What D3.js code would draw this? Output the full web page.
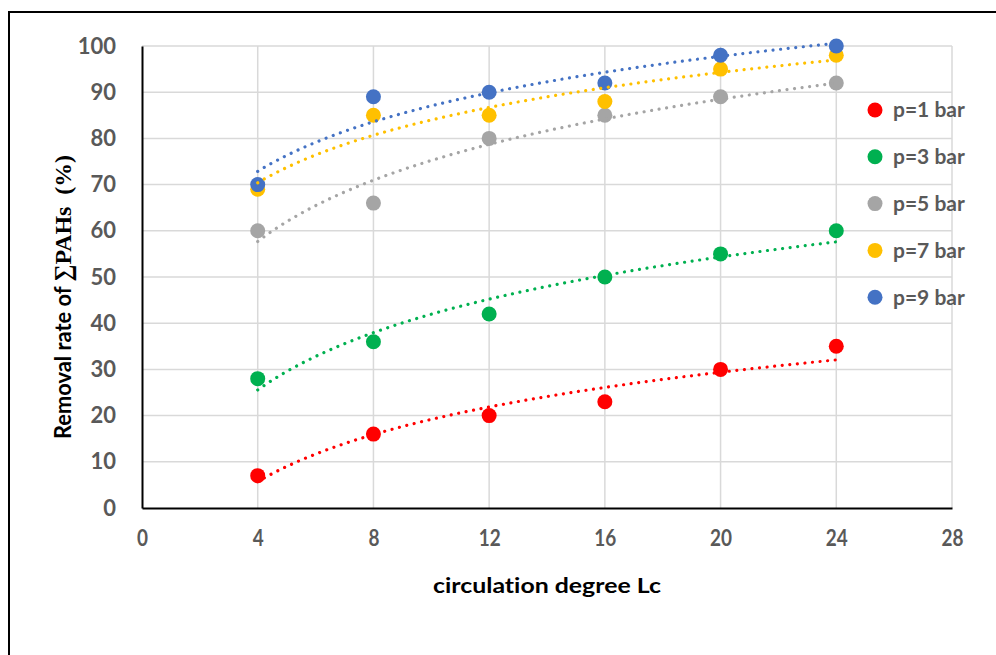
<!DOCTYPE html>
<html>
<head>
<meta charset="utf-8">
<script src="https://cdn.jsdelivr.net/npm/d3@7"></script>
<style>
  body { margin: 0; background: #fff; }
  svg { display: block; }
  text, tspan { font-feature-settings: "liga" 0, "clig" 0, "dlig" 0; }
</style>
</head>
<body>
<svg id="chart" width="996" height="655"></svg>
<script>
'use strict';

// circulation degree Lc
const cycles = [4, 8, 12, 16, 20, 24];
const seriesNames = ["p=1 bar", "p=3 bar", "p=5 bar", "p=7 bar", "p=9 bar"];
const seriesColors = ["#FF0000", "#00B050", "#A5A5A5", "#FFC000", "#4472C4"];
// removal rate (%)
const p1 = [7, 16, 20, 23, 30, 35];
const p3 = [28, 36, 42, 50, 55, 60];
const p5 = [60, 66, 80, 85, 89, 92];
const p7 = [69, 85, 85, 88, 95, 98];
const p9 = [70, 89, 90, 92, 98, 100];
const xTicks = [0, 4, 8, 12, 16, 20, 24, 28];
const yTicks = [0, 10, 20, 30, 40, 50, 60, 70, 80, 90, 100];

const seriesValues = [p1, p3, p5, p7, p9];

const svg = d3.select("#chart");

// outer frame (runs off right and bottom edge like the reference)
svg.append("rect")
	.attr("x", 9).attr("y", 12)
	.attr("width", 1100).attr("height", 800)
	.attr("fill", "none")
	.attr("stroke", "#000")
	.attr("stroke-width", 2);

const x = d3.scaleLinear().domain([0, 28]).range([142, 952]);
const y = d3.scaleLinear().domain([0, 100]).range([508, 46]);

// grid
const grid = svg.append("g")
	.attr("stroke", "#D9D9D9")
	.attr("stroke-width", 1.5);
grid.selectAll("line.h")
	.data(yTicks.filter(d => d > 0))
	.join("line")
		.attr("x1", x(0)).attr("x2", x(28))
		.attr("y1", d => y(d)).attr("y2", d => y(d));
grid.selectAll("line.v")
	.data(xTicks.filter(d => d > 0))
	.join("line")
		.attr("class", "v")
		.attr("y1", y(0)).attr("y2", y(100))
		.attr("x1", d => x(d)).attr("x2", d => x(d));

// axes
const xAxis = svg.append("g")
	.attr("transform", `translate(0,${y(0)})`)
	.call(d3.axisBottom(x).tickValues(xTicks).tickSize(0).tickPadding(22));
const yAxis = svg.append("g")
	.attr("transform", `translate(${x(0)},0)`)
	.call(d3.axisLeft(y).tickValues(yTicks).tickSize(0).tickPadding(26));

[xAxis, yAxis].forEach(a => {
	a.select(".domain").attr("stroke", "#000").attr("stroke-width", 2);
	a.selectAll("text")
		.attr("fill", "#595959")
		.style("font", "bold 22px Lato, 'Open Sans', sans-serif");
});
xAxis.selectAll(".tick").each(function(d) {
	d3.select(this).select("text")
		.attr("textLength", String(d).length * 11)
		.attr("lengthAdjust", "spacingAndGlyphs");
});

// markers
const markers = svg.append("g");
seriesValues.forEach((vals, si) => {
	markers.append("g")
		.attr("fill", seriesColors[si])
		.selectAll("circle")
		.data(vals.map((v, i) => [cycles[i], v]))
		.join("circle")
			.attr("cx", d => x(d[0]))
			.attr("cy", d => y(d[1]))
			.attr("r", 7.5);
});

// logarithmic trendlines (least squares fit of y = a*ln(x) + b)
function logFit(xs, ys) {
	const lx = xs.map(Math.log);
	const mx = d3.mean(lx), my = d3.mean(ys);
	let sxy = 0, sxx = 0;
	lx.forEach((v, i) => { sxy += (v - mx) * (ys[i] - my); sxx += (v - mx) * (v - mx); });
	const a = sxy / sxx;
	return t => a * Math.log(t) + (my - a * mx);
}
const curveX = d3.range(4, 24.001, 0.25);
const line = d3.line().x(d => x(d[0])).y(d => y(d[1]));
const trends = svg.append("g").attr("fill", "none");
seriesValues.forEach((vals, si) => {
	const f = logFit(cycles, vals);
	trends.append("path")
		.attr("d", line(curveX.map(t => [t, f(t)])))
		.attr("stroke", seriesColors[si])
		.attr("stroke-width", 3.2)
		.attr("stroke-linecap", "round")
		.attr("stroke-dasharray", "0.01 7.6");
});

// legend
const legend = svg.append("g")
	.selectAll("g")
	.data(seriesNames)
	.join("g")
		.attr("transform", (d, i) => `translate(875,${110 + i * 46.8})`);
legend.append("circle")
	.attr("r", 7.5)
	.attr("fill", (d, i) => seriesColors[i]);
legend.append("text")
	.attr("x", 18)
	.attr("dy", "0.35em")
	.attr("fill", "#595959")
	.style("font", "bold 21px Lato, 'Open Sans', sans-serif")
	.text(d => d);

// axis titles
svg.append("text")
	.attr("x", 547)
	.attr("y", 593)
	.attr("text-anchor", "middle")
	.attr("textLength", 228)
	.attr("lengthAdjust", "spacingAndGlyphs")
	.attr("fill", "#000")
	.style("font", "bold 21px Lato, 'Open Sans', sans-serif")
	.style("font-variant-ligatures", "none")
	.text("circulation degree Lc");

const yTitle = svg.append("text")
	.attr("transform", "translate(71,297) rotate(-90)")
	.attr("text-anchor", "middle")
	.attr("textLength", 284)
	.attr("lengthAdjust", "spacingAndGlyphs")
	.attr("fill", "#000");
yTitle.append("tspan")
	.style("font", "bold 22px Lato, 'Open Sans', sans-serif")
	.text("Removal rate of ");
yTitle.append("tspan")
	.style("font", "bold 24px 'Liberation Serif', 'DejaVu Serif', serif")
	.text("∑PAHs\u00a0\u00a0(%)");
</script>
</body>
</html>
